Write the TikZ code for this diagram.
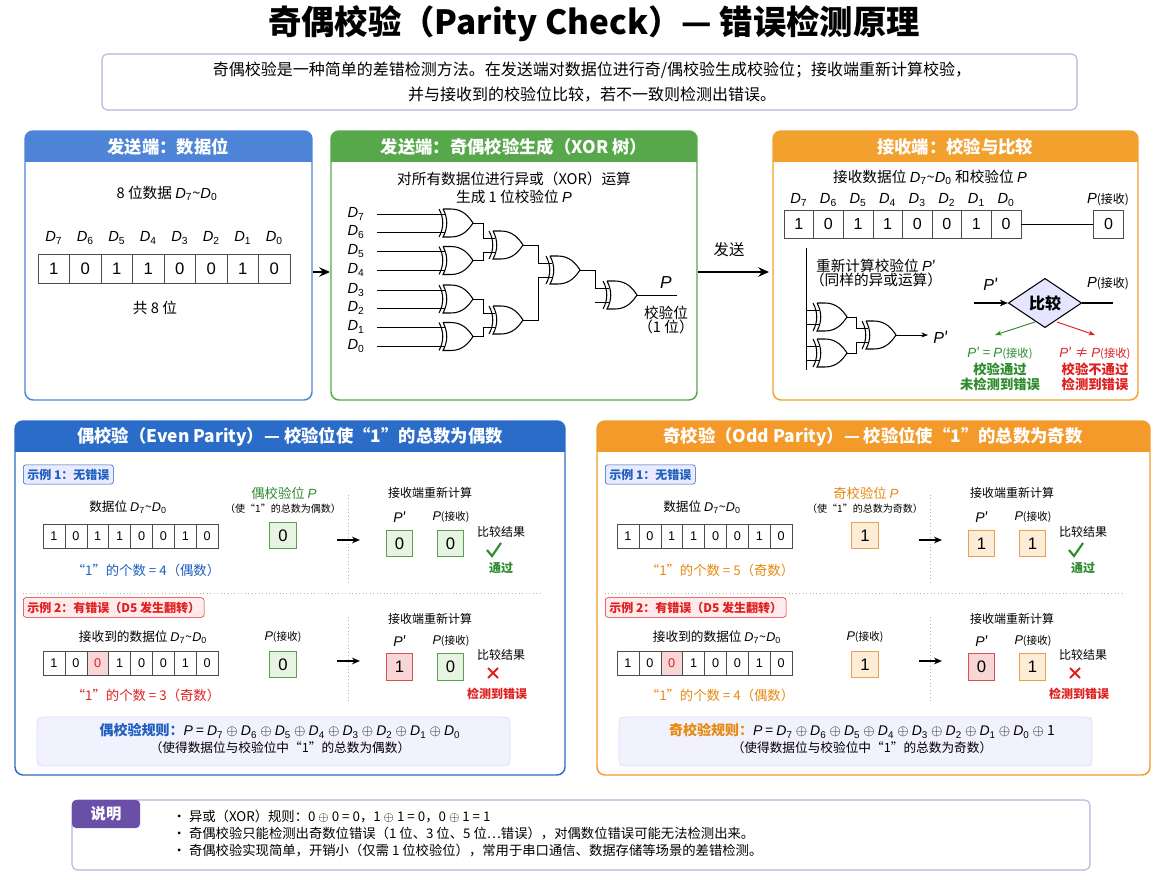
\documentclass[tikz,border=0pt]{standalone}
\usepackage{fontspec}
\setmainfont{Noto Sans CJK SC}
\newfontfamily\lsf{Liberation Sans}
\usetikzlibrary{arrows.meta,shapes.geometric}
\definecolor{hblue}{HTML}{4E84D8}
\definecolor{hgreen}{HTML}{56A84A}
\definecolor{horange}{HTML}{F2A02E}
\definecolor{bblue}{HTML}{2A6CC8}
\definecolor{borange}{HTML}{F39A2A}
\definecolor{tgreen}{HTML}{2E8B2E}
\definecolor{tred}{HTML}{E02020}
\definecolor{tblue}{HTML}{1F5FBF}
\definecolor{torange}{HTML}{E8890F}
\definecolor{gfill}{HTML}{E6F4E1}\definecolor{gdraw}{HTML}{5AA050}
\definecolor{rfill}{HTML}{F9D6D6}\definecolor{rdraw}{HTML}{D85050}
\definecolor{ofill}{HTML}{FDECD6}\definecolor{odraw}{HTML}{E8A050}
\definecolor{lav}{HTML}{B8B2DC}
\definecolor{purp}{HTML}{6A4FA8}
\newcommand\fs[1]{\fontsize{#1}{#1}\selectfont}
\newcommand\Dx[1]{{\lsf\itshape D}\textsubscript{\lsf #1}}
\newcommand\Pv{{\lsf\itshape P}}
\newcommand\Pq{{\lsf\itshape P\/}′}
\newcommand\xo{ $\oplus$ }
\newcommand\mypanel[7]{%
 \begin{scope}\clip[rounded corners=6] (#1,#2) rectangle (#3,#4);
 \fill[white] (#1,#2) rectangle (#3,#4);
 \fill[#5] (#1,#2) rectangle (#3,#2+31);\end{scope}
 \draw[#5,line width=1.1pt,rounded corners=6] (#1,#2) rectangle (#3,#4);
 \node[text=white,font=\fs{13}\bfseries] at (#6,#2+15.5) {#7};}
\tikzset{
 xorg/.pic={\draw[line width=0.8pt] (-4,-14) .. controls (1,-5) and (1,5) .. (-4,14);
   \draw[line width=0.8pt] (0,-14) -- (8,-14) .. controls (20,-14) and (26,-6) .. (30,0) .. controls (26,6) and (20,14) .. (8,14) -- (0,14) .. controls (5,5) and (5,-5) .. (0,-14);},
 wire/.style={line width=0.6pt},
 c1/.style={draw=black!70,minimum width=23.6pt,minimum height=21.75pt,inner sep=0,font=\fs{12.5}\lsf},
 c3/.style={draw=black!70,minimum width=22.2pt,minimum height=21pt,inner sep=0,font=\fs{12}\lsf},
 cb/.style={draw=black!70,minimum width=16.4pt,minimum height=18pt,inner sep=0,font=\fs{9.5}\lsf},
 bx/.style={minimum width=20pt,minimum height=20pt,inner sep=0,font=\fs{12.5}\lsf,line width=0.7pt},
 gbx/.style={bx,draw=gdraw,fill=gfill},
 rbx/.style={bx,draw=rdraw,fill=rfill},
 obx/.style={bx,draw=odraw,fill=ofill},
 t/.style={font=\fs{11}},
 ts/.style={font=\fs{9}},
 big/.style={-{Stealth[length=8pt,width=7pt]},line width=1.6pt},
 mid/.style={-{Stealth[length=6pt,width=5pt]},line width=1.3pt},
}
\begin{document}
\begin{tikzpicture}[x=0.75pt,y=-0.75pt]
\useasboundingbox (0,0) rectangle (1168,880);
\fill[white] (0,0) rectangle (1168,880);
% title
\node[font=\fs{25}\bfseries] (title) at (594,24) {奇偶校验（Parity Check）— 错误检测原理};
\draw[lav,rounded corners=4,line width=0.8pt] (102,54) rectangle (1077,110);
\node[font=\fs{12},align=center] (intro) at (592,82) {奇偶校验是一种简单的差错检测方法。在发送端对数据位进行奇/偶校验生成校验位；接收端重新计算校验，\\[5pt]并与接收到的校验位比较，若不一致则检测出错误。};
% panels top
\mypanel{25}{131}{312}{400}{hblue}{168}{发送端：数据位}
\mypanel{331}{131}{697}{400}{hgreen}{514}{发送端：奇偶校验生成（XOR 树）}
\mypanel{773}{131}{1138}{400}{horange}{955}{接收端：校验与比较}
% panel 1
\node[t] (p1t) at (167,193) {8 位数据 \Dx7\textasciitilde\Dx0};
\foreach \b/\l [count=\i] in {1/7,0/6,1/5,1/4,0/3,0/2,1/1,0/0}{
  \node[c1] (a\i) at ({38+(\i-0.5)*31.5},268.5) {\b};
  \node[t] (al\i) at ({38+(\i-0.5)*31.5},238) {\Dx{\l}};}
\node[t] (p1b) at (155,308) {共 8 位};
\draw[big] (313,272) -- (330,272);
% panel 2
\node[t,align=center] (p2t) at (514,188) {对所有数据位进行异或（XOR）运算\\[2pt]生成 1 位校验位 \Pv};
\foreach \l/\y in {7/214,6/232,5/251,4/270,3/290,2/308,1/327,0/346}{
  \node[t] (dl\l) at (356,\y) {\Dx{\l}};
  \draw[wire] (377,\y) -- (445,\y);}
\foreach \y in {223,260.5,299,336.5} \pic at (443,\y) {xorg};
\pic at (493,245) {xorg}; \pic at (493,320) {xorg};
\pic at (550,270) {xorg}; \pic at (607,295) {xorg};
\draw[wire] (473,223) -- (483,223) -- (483,238) -- (495,238);
\draw[wire] (473,260.5) -- (483,260.5) -- (483,252) -- (495,252);
\draw[wire] (473,299) -- (483,299) -- (483,313) -- (495,313);
\draw[wire] (473,336.5) -- (483,336.5) -- (483,327) -- (495,327);
\draw[wire] (523,245) -- (538,245) -- (538,263) -- (552,263);
\draw[wire] (523,320) -- (538,320) -- (538,277) -- (552,277);
\draw[wire] (580,270) -- (595,270) -- (595,288) -- (609,288);
\draw[wire] (595,302) -- (609,302);
\draw[wire] (637,295) -- (677,295);
\node[font=\fs{13}] (pp) at (666,283) {\Pv};
\node[t,align=center] (pv) at (666,320) {校验位\\（1 位）};
\draw[big] (698,272) -- (769,272);
\node[font=\fs{11.5}] (send) at (729,250) {发送};
% panel 3
\node[t] (p3t) at (930,177) {接收数据位 \Dx7\textasciitilde\Dx0 和校验位 \Pv};
\foreach \b/\l [count=\i] in {1/7,0/6,1/5,1/4,0/3,0/2,1/1,0/0}{
  \node[c3] (r\i) at ({784+(\i-0.5)*29.6},224) {\b};
  \node[t] (rl\i) at ({784+(\i-0.5)*29.6},200) {\Dx{\l}};}
\node[c3] (rp) at (1108.5,224) {0};
\node[t] (rpl) at (1108,200) {\Pv\fs{9}(接收)};
\draw[wire] (r8.east) -- (rp.west);
\node[t,align=center] (rc) at (876,273) {重新计算校验位 \Pq\\（同样的异或运算）};
\draw[wire] (806,248) -- (806,370);
\pic at (817,317) {xorg}; \pic at (817,353) {xorg}; \pic at (866,335) {xorg};
\foreach \y in {310,324,346,360} \draw[wire] (806,\y) -- (819,\y);
\draw[wire] (847,317) -- (856,317) -- (856,328) -- (868,328);
\draw[wire] (847,353) -- (856,353) -- (856,342) -- (868,342);
\draw[wire,-{Stealth[length=5pt]}] (896,335) -- (928,335);
\node[font=\fs{12}] (pq) at (941,337) {\Pq};
\node[draw,fill=blue!10,line width=0.8pt,minimum width=55pt,minimum height=37pt,inner sep=0,font=\fs{12}\bfseries,shape=diamond,aspect=1.5] (cmp) at (1045,303) {比较};
\coordinate (cin) at (974,303); \coordinate (cout) at (1113,303);
\draw[mid] (cin) -- (cmp.west);
\draw[line width=1.1pt] (cmp.east) -- (cout);
\node[font=\fs{12}] (cpl) at (991,284) {\Pq};
\node[t] (cpr) at (1108,284) {\Pv\fs{9}(接收)};
\coordinate (gA) at (995,335); \coordinate (rA) at (1095,335);
\draw[tgreen,line width=0.7pt,-{Stealth[length=5pt]}] (1035,322) -- (gA);
\draw[tred,line width=0.7pt,-{Stealth[length=5pt]}] (1057,322) -- (rA);
\node[text=tgreen,font=\fs{10}\bfseries,align=center] (okt) at (1000,369) {\mdseries\Pq\ = \Pv\fs{8.5}(接收)\\[1pt]校验通过\\[1pt]未检测到错误};
\node[text=tred,font=\fs{10}\bfseries,align=center] (bad) at (1095,369) {\mdseries\Pq\ ≠ \Pv\fs{8.5}(接收)\\[1pt]校验不通过\\[1pt]检测到错误};
% bottom panels
\mypanel{15}{421}{565}{775}{bblue}{290}{偶校验（Even Parity）— 校验位使“1”的总数为偶数}
\mypanel{597}{421}{1150}{775}{borange}{873}{奇校验（Odd Parity）— 校验位使“1”的总数为奇数}
\foreach \dx/\cx/\tc/\ttl/\tl/\ta/\tb/\pa/\ca/\qb/\xa/\xb/\rl/\rr/\nm/\nca/\ncb/\wa/\wb in {
 0/0/tgreen/偶校验位 \Pv/偶数/4/3/0/gbx/gbx/1/0/偶/{}/e/tblue/tred/偶数/奇数,
 582/574/torange/奇校验位 \Pv/奇数/5/4/1/obx/obx/0/1/奇/\xo 1/o/torange/torange/奇数/偶数}{
 \begin{scope}[xshift=\dx*0.75pt]
 \node[draw=tblue,fill=blue!8,rounded corners=2,font=\fs{9}\bfseries,text=tblue,minimum height=14pt,inner sep=3pt,anchor=west] (\nm tag1) at (23,474.5) {示例 1：无错误};
 \node[draw=tred,fill=red!8,rounded corners=2,font=\fs{9}\bfseries,text=tred,minimum height=14pt,inner sep=3pt,anchor=west] (\nm tag2) at (23,607.5) {示例 2：有错误（D5 发生翻转）};
 \node[text=\tc,font=\fs{10}] (\nm pt) at (284,493) {\ttl};
 \node[font=\fs{7.5}] (\nm ps) at (283,509) {（使“1”的总数为\tl）};
 \node[\ca] (\nm p1) at (283,535.5) {\pa};
 \node[font=\fs{9.5}] (\nm pr2) at (283,637) {\Pv\fs{8}(接收)};
 \node[\ca] (\nm p2) at (283,664.5) {\pa};
 \draw[gray!60,dotted,line width=0.6pt] (348,495) -- (348,583);
 \draw[gray!60,dotted,line width=0.6pt] (348,617) -- (348,703);
 \draw[gray!60,dotted,line width=0.6pt] (23,593) -- (540,593);
 \coordinate (\nm a1) at (337,540); \coordinate (\nm b1) at (360,540);
 \coordinate (\nm a2) at (337,661); \coordinate (\nm b2) at (360,661);
 \draw[mid] (\nm a1) -- (\nm b1); \draw[mid] (\nm a2) -- (\nm b2);
 \node[font=\fs{9}] (\nm rc1) at (430,493) {接收端重新计算};
 \node[font=\fs{9}] (\nm rc2) at (430,619) {接收端重新计算};
 \node[font=\fs{10.5}] (\nm q1) at (400,517) {\Pq};
 \node[font=\fs{9.5}] (\nm q2) at (451,517) {\Pv\fs{8}(接收)};
 \node[font=\fs{10.5}] (\nm q3) at (400,641) {\Pq};
 \node[font=\fs{9.5}] (\nm q4) at (451,641) {\Pv\fs{8}(接收)};
 \node[\ca] (\nm x1) at (399.5,543.5) {\pa};
 \node[\ca] (\nm x2) at (450.5,543.5) {\pa};
 \node[rbx] (\nm x3) at (399.5,667) {\xa};
 \node[\qb] (\nm x4) at (450.5,667) {\xb};
 \node[ts] (\nm cr1) at (501,532) {比较结果};
 \node[ts] (\nm cr2) at (501,655) {比较结果};
 \draw[tgreen,line width=1.6pt] (487,550) -- (492,556) -- (501,543);
 \node[text=tgreen,font=\fs{9}\bfseries] (\nm ok) at (501,568) {通过};
 \draw[tred,line width=1.5pt] (488,668) -- (498,678) (498,668) -- (488,678);
 \node[text=tred,font=\fs{9}\bfseries] (\nm er) at (497,694) {检测到错误};
 \fill[blue!5] (37,717) rectangle (510,766);
 \draw[blue!15,rounded corners=5] (37,717) rectangle (510,766);
 \node[font=\fs{10.5}] (\nm rule) at (280,731) {\textcolor{\nca}{\bfseries \rl 校验规则：}\Pv\ = \Dx7\xo\Dx6\xo\Dx5\xo\Dx4\xo\Dx3\xo\Dx2\xo\Dx1\xo\Dx0\rr};
 \node[font=\fs{9.5}] (\nm rule2) at (280,748) {（使得数据位与校验位中“1”的总数为\tl）};
 \end{scope}
 \begin{scope}[xshift=\cx*0.75pt]
 \node[font=\fs{9.5}] (\nm dt1) at (128,507) {数据位 \Dx7\textasciitilde\Dx0};
 \node[font=\fs{9.5}] (\nm dt2) at (143,637) {接收到的数据位 \Dx7\textasciitilde\Dx0};
 \foreach \b [count=\i] in {1,0,1,1,0,0,1,0} \node[cb] (\nm u\i) at ({43+(\i-0.5)*21.9},536) {\b};
 \foreach \b [count=\i] in {1,0,0,1,0,0,1,0} \node[cb] (\nm v\i) at ({43+(\i-0.5)*21.9},663) {\b};
 \node[cb,fill=rfill,text=tred] (\nm vf) at (\nm v3) {0};
 \node[text=\nca,font=\fs{10}] (\nm n1) at (146,570) {“1”的个数 = \ta（\wa）};
 \node[text=\ncb,font=\fs{10}] (\nm n2) at (146,695) {“1”的个数 = \tb（\wb）};
 \end{scope}
}
% note
\draw[lav,rounded corners=4,line width=0.8pt] (72,800) rectangle (1090,870);
\fill[purp,rounded corners=3] (72,800) rectangle (140,828);
\node[text=white,font=\fs{11.5}\bfseries] (nt) at (106,814) {说明};
\node[font=\fs{10},align=left,anchor=north west] (notes) at (168,805) {• 异或（XOR）规则：0\xo0 = 0，1\xo1 = 0，0\xo1 = 1\\[3pt]• 奇偶校验只能检测出奇数位错误（1 位、3 位、5 位…错误），对偶数位错误可能无法检测出来。\\[3pt]• 奇偶校验实现简单，开销小（仅需 1 位校验位），常用于串口通信、数据存储等场景的差错检测。};
\end{tikzpicture}
\end{document}
